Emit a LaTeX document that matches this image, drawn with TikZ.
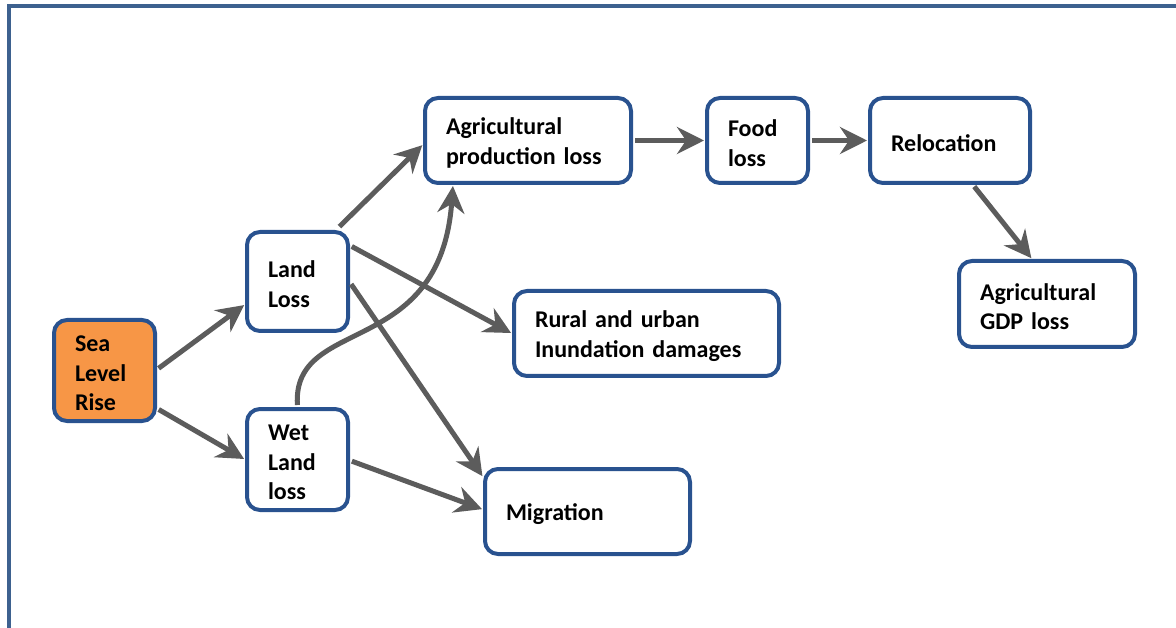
\documentclass[tikz,border=0pt]{standalone}
\usepackage{fontspec}
\setmainfont{Carlito}
\usetikzlibrary{arrows.meta,calc}
\definecolor{boxblue}{RGB}{41,82,143}
\definecolor{frameblue}{RGB}{61,97,143}
\definecolor{slrorange}{RGB}{247,150,70}
\definecolor{arrowgray}{RGB}{92,92,92}
\begin{document}
\begin{tikzpicture}[x=1pt,y=-1pt,
  box/.style={draw=boxblue, line width=4pt, rounded corners=13pt, fill=white,
    align=left, inner xsep=21pt, inner ysep=0pt, text=black,
    font=\fontsize{24}{29.5}\selectfont\bfseries,
    execute at begin node={\rule{0pt}{22pt}}},
  link/.style={draw=arrowgray, line width=5pt,
    -{Stealth[length=27pt,width=27pt,inset=9pt]},
    shorten <=2pt, shorten >=1pt}]
\useasboundingbox (0,0) rectangle (1176,628);
% page frame (left and top edges)
\draw[frameblue, line width=4pt] (9,640) -- (9,6.3) -- (1190,6.3);

% boxes
\node[box, fill=slrorange, text width=59pt, minimum height=101pt] (slr) at (104.5,370.5) {Sea\\Level\\Rise};
\node[box, text width=59pt, minimum height=99pt] (land) at (297.5,281.5) {Land\\Loss};
\node[box, text width=59pt, minimum height=101pt] (wet) at (297.5,459.5) {Wet\\Land\\loss};
\node[box, text width=164pt, minimum height=85pt] (agri) at (528,140.5) {Agricultural\\production loss};
\node[box, text width=59pt, minimum height=85pt] (food) at (757.5,140.5) {Food\\loss};
\node[box, text width=118pt, minimum height=85pt] (reloc) at (950,140.5) {Relocation};
\node[box, text width=134pt, minimum height=86pt] (gdp) at (1047,304) {Agricultural\\GDP loss};
\node[box, text width=223pt, minimum height=85pt] (rural) at (646.5,333.5) {Rural and urban\\Inundation damages};
\node[box, text width=163pt, minimum height=85pt] (mig) at (587.5,511.5) {Migration};

% connectors
\draw[link] ($(slr.east)+(0,-1)$) -- ($(land.west)+(0,23)$);
\draw[link] ($(slr.east)+(0,38)$) -- (wet.west);
\draw[link] ($(land.north east)+(-12,-2)$) -- ($(agri.west)+(0,4)$);
\draw[link] ($(land.east)+(0,-36)$) -- (rural.west);
\draw[link] ($(land.east)+(0,1)$) -- ($(mig.north west)+(0,10)$);
\draw[link] ($(wet.east)+(0,1)$) -- ($(mig.west)+(0,-2)$);
\draw[link] (wet.north) .. controls (292,315) and (440,360) .. ($(agri.south west)+(30,0)$);
\draw[link] (agri.east) -- (food.west);
\draw[link] (food.east) -- (reloc.west);
\draw[link] ($(reloc.south)+(23,0)$) -- ($(gdp.north)+(-15,0)$);
\end{tikzpicture}
\end{document}
